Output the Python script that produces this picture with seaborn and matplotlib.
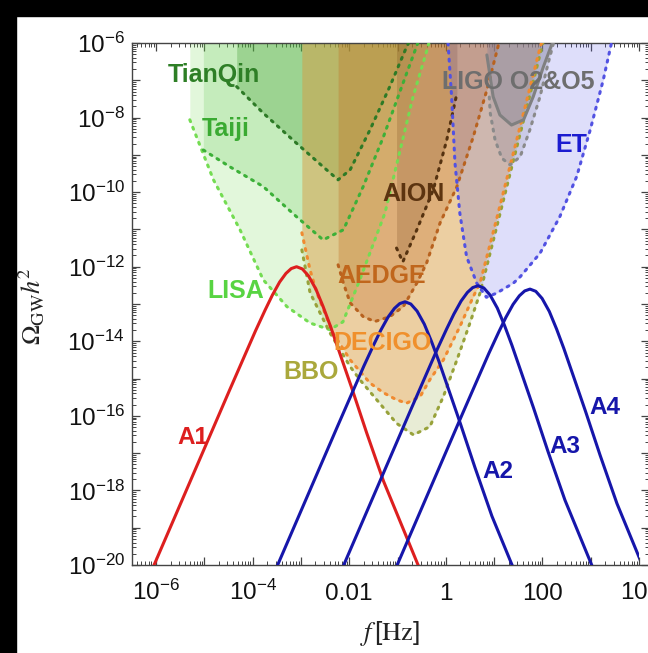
import numpy as np
import matplotlib
matplotlib.use("Agg")
import matplotlib.pyplot as plt
import seaborn as sns
from matplotlib.patches import Rectangle
from matplotlib.ticker import FixedLocator, FixedFormatter, LogLocator, NullFormatter

# ---------------- GW spectra (log10 units) ----------------
# common peaked spectral shape, offsets from the peak
shape_dlogf = [-3.3, -3.0, -2.6, -2.2, -1.8, -1.4, -1.1, -0.85, -0.65, -0.5, -0.35,
               -0.22, -0.11, 0.0, 0.12, 0.25, 0.4, 0.55, 0.7, 0.9, 1.15, 1.45, 1.8,
               2.15, 2.5, 2.85]
shape_dlogomega = [-9.05, -8.15, -6.95, -5.75, -4.55, -3.35, -2.46, -1.72, -1.16, -0.76,
                   -0.41, -0.18, -0.05, 0.0, -0.06, -0.25, -0.60, -1.07, -1.59, -2.34,
                   -3.28, -4.45, -5.75, -6.85, -7.95, -9.05]
spectrum_names = ["A1", "A2", "A3", "A4"]
peak_logf = [-3.09, -0.845, 0.667, 1.743]
peak_logomega = [-12.0, -12.94, -12.51, -12.60]
spectrum_colors = ["#dd1f1f", "#1616aa", "#1616aa", "#1616aa"]
spectrum_label_logf = [-5.24, 1.07, 2.47, 3.30]
spectrum_label_logomega = [-16.58, -17.48, -16.83, -15.77]
f_max = 1e4

# ---------------- detector sensitivity curves (log10 units) ----------------
lisa_logf = [-5.30, -4.81, -4.26, -3.78, -3.29, -2.81, -2.40, -2.13, -1.78, -1.26, -1.01, -0.68, -0.39, -0.35]
lisa_logomega = [-8.06, -9.67, -11.01, -12.35, -13.07, -13.51, -13.69, -13.48, -12.35, -10.56, -9.22, -7.45, -6.19, -6.0]

taiji_logf = [-5.02, -4.47, -3.78, -3.09, -2.54, -2.12, -1.71, -1.29, -0.81, -0.58]
taiji_logomega = [-8.87, -9.32, -9.85, -10.66, -11.28, -11.01, -9.85, -8.51, -6.81, -6.0]

tianqin_logf = [-4.33, -3.78, -3.09, -2.54, -2.23, -1.98, -1.57, -1.16, -0.81, -0.77]
tianqin_logomega = [-7.17, -7.88, -8.69, -9.32, -9.67, -9.40, -8.33, -7.17, -6.10, -6.0]

bbo_logf = [-2.98, -2.81, -2.40, -1.98, -1.78, -1.43, -1.02, -0.67, -0.33, -0.05, 0.23, 0.50, 0.71, 1.02, 1.33, 1.64, 2.01]
bbo_logomega = [-11.55, -12.70, -13.77, -14.68, -15.03, -15.57, -16.20, -16.51, -16.29, -15.48, -14.50, -13.51, -12.70, -11.11, -9.51, -7.92, -6.0]

decigo_logf = [-2.98, -2.81, -2.67, -2.34, -1.98, -1.57, -1.29, -1.02, -0.81, -0.53, -0.33, -0.05, 0.29, 0.57, 0.71, 1.02, 1.33, 1.64, 1.95, 1.98]
decigo_logomega = [-11.09, -12.09, -12.70, -13.77, -14.50, -15.12, -15.38, -15.57, -15.66, -15.48, -15.03, -14.50, -13.61, -12.80, -12.43, -10.88, -9.30, -7.72, -6.13, -6.0]

aedge_logf = [-2.23, -2.12, -1.98, -1.71, -1.47, -1.16, -0.88, -0.60, -0.40, -0.12, 0.23, 0.57, 0.85, 1.09, 1.10]
aedge_logomega = [-11.95, -12.44, -12.97, -13.34, -13.47, -13.34, -13.07, -12.44, -11.91, -10.83, -9.85, -8.51, -7.26, -6.05, -6.0]

aion_logf = [-1.02, -0.89, -0.60, -0.26, 0.02, 0.23]
aion_logomega = [-11.50, -11.87, -11.01, -9.94, -8.60, -7.35]

ligo_o2_logf = [0.85, 0.98, 1.12, 1.36, 1.61, 1.81, 2.02, 2.19, 2.21]
ligo_o2_logomega = [-6.32, -7.44, -7.93, -8.20, -8.06, -7.44, -6.64, -6.05, -6.0]

ligo_o5_logf = [0.90, 0.92, 1.02, 1.16, 1.33, 1.54, 1.74, 1.95, 2.12, 2.23]
ligo_o5_logomega = [-7.45, -7.88, -8.60, -9.09, -9.27, -9.05, -8.33, -7.44, -6.54, -6.0]

et_logf = [0.046, 0.12, 0.19, 0.29, 0.43, 0.64, 0.84, 1.05, 1.40, 1.54, 1.95, 2.36, 2.71, 2.99, 3.26, 3.43]
et_logomega = [-6.0, -7.44, -9.22, -10.56, -11.73, -12.44, -12.82, -12.71, -12.44, -12.27, -11.64, -10.66, -9.58, -8.33, -6.99, -6.0]

# name, curve, line colour, fill colour, fill alpha, line style
dotted = (0, (0.65, 2.0))
detectors = [
    ("LISA", lisa_logf, lisa_logomega, "#74dc52", "#7ddc5c", 0.22, dotted),
    ("Taiji", taiji_logf, taiji_logomega, "#3cb038", "#52c040", 0.20, dotted),
    ("TianQin", tianqin_logf, tianqin_logomega, "#2d7a26", "#3e9a30", 0.30, dotted),
    ("BBO", bbo_logf, bbo_logomega, "#98a23a", "#8ea030", 0.20, dotted),
    ("DECIGO", decigo_logf, decigo_logomega, "#f08a30", "#f59a45", 0.35, dotted),
    ("AEDGE", aedge_logf, aedge_logomega, "#b8621f", "#c0681e", 0.30, dotted),
    ("AION", aion_logf, aion_logomega, "#553210", "#6a3a12", 0.20, dotted),
    ("LIGO O2", ligo_o2_logf, ligo_o2_logomega, "#808080", "#888888", 0.30, "-"),
    ("LIGO O5", ligo_o5_logf, ligo_o5_logomega, "#8a8a8a", "#888888", 0.20, dotted),
    ("ET", et_logf, et_logomega, "#5252e2", "#5a5ae6", 0.20, dotted),
]

detector_labels = ["TianQin", "Taiji", "LISA", "BBO", "DECIGO", "AEDGE", "AION", "LIGO O2&O5", "ET"]
detector_label_logf = [-4.80, -4.55, -4.34, -2.79, -1.31, -1.32, -0.67, 1.51, 2.60]
detector_label_logomega = [-6.85, -8.30, -12.66, -14.83, -14.04, -12.24, -10.06, -7.04, -8.73]
detector_label_colors = ["#2e7f26", "#3aaa32", "#58d442", "#aaa83c", "#f0902c", "#c0661c",
                         "#5c3410", "#6e6e6e", "#1c1cd0"]

# ---------------- style ----------------
sns.set_theme(style="ticks")
plt.rcParams["font.family"] = ["Liberation Sans", "DejaVu Sans"]
plt.rcParams["mathtext.fontset"] = "custom"
plt.rcParams["mathtext.rm"] = "Liberation Sans"
plt.rcParams["mathtext.it"] = "Liberation Sans:italic"
plt.rcParams["mathtext.bf"] = "Liberation Sans:bold"
plt.rcParams["mathtext.default"] = "regular"

W, H = 648, 653
fig = plt.figure(figsize=(W / 100, H / 100), dpi=100)
fig.patch.set_facecolor("white")
ax = fig.add_axes([131.85 / W, (H - 565) / H, 517.3 / W, 522 / H])
ax.set_facecolor("white")
ax.set_xscale("log")
ax.set_yscale("log")

x_lo, x_hi = 10 ** -6.5, 10 ** 4.21
y_lo, y_hi = 1e-20, 1e-6

# shaded sensitivity regions
for name, lf, lo, lcol, fcol, alpha, ls in detectors:
    f = 10 ** np.asarray(lf)
    om = 10 ** np.asarray(lo)
    ax.fill_between(f, om, y_hi, color=fcol, alpha=alpha, lw=0, zorder=1)

# sensitivity curves
for name, lf, lo, lcol, fcol, alpha, ls in detectors:
    f = 10 ** np.asarray(lf)
    om = 10 ** np.asarray(lo)
    sns.lineplot(x=f, y=om, ax=ax, color=lcol, lw=2.2, linestyle=ls,
                 dash_capstyle="round", estimator=None, sort=False, zorder=3)

# GW spectra (frequency range ends at f_max)
for name, lf, lo, col in zip(spectrum_names, peak_logf, peak_logomega, spectrum_colors):
    f = 10 ** (lf + np.asarray(shape_dlogf))
    om = 10 ** (lo + np.asarray(shape_dlogomega))
    sns.lineplot(x=f, y=om, ax=ax, color=col, lw=2.2, estimator=None, sort=False, zorder=4)
    line = ax.lines[-1]
    clip = Rectangle((x_lo, y_lo), min(f_max, x_hi) - x_lo, y_hi - y_lo,
                     transform=ax.transData)
    line.set_clip_path(clip)

ax.set_xlim(x_lo, x_hi)
ax.set_ylim(y_lo, y_hi)

# labels
for txt, lx, ly, col in zip(detector_labels, detector_label_logf, detector_label_logomega,
                            detector_label_colors):
    ax.text(10 ** lx, 10 ** ly, txt, color=col, fontsize=18, fontweight="bold",
            ha="center", va="center", zorder=6)
for txt, lx, ly, col in zip(spectrum_names, spectrum_label_logf, spectrum_label_logomega,
                            spectrum_colors):
    ax.text(10 ** lx, 10 ** ly, txt, color=col, fontsize=17.5, fontweight="bold",
            ha="center", va="center", zorder=6)

# ticks
xdec = list(range(-7, 6))
xtick_text = {-6: r"$10^{-6}$", -4: r"$10^{-4}$", -2: "0.01", 0: "1", 2: "100", 4: r"$10^{4}$"}
ax.xaxis.set_major_locator(FixedLocator([10.0 ** k for k in xdec]))
ax.xaxis.set_major_formatter(FixedFormatter([xtick_text.get(k, "") for k in xdec]))
ax.xaxis.set_minor_locator(LogLocator(base=10, subs=np.arange(2, 10), numticks=200))
ax.xaxis.set_minor_formatter(NullFormatter())

ydec = list(range(-21, -4))
ax.yaxis.set_major_locator(FixedLocator([10.0 ** k for k in ydec]))
ax.yaxis.set_major_formatter(FixedFormatter(
    [r"$10^{%d}$" % k if k % 2 == 0 else "" for k in ydec]))
ax.yaxis.set_minor_locator(LogLocator(base=10, subs=np.arange(2, 10), numticks=200))
ax.yaxis.set_minor_formatter(NullFormatter())

ax.tick_params(which="both", direction="in", top=True, right=True, color="#444444")
ax.tick_params(which="major", length=6, width=0.9, labelsize=17.5, labelcolor="#111111")
ax.tick_params(which="minor", length=3, width=0.7)
ax.tick_params(axis="x", which="major", pad=25)
ax.tick_params(axis="y", which="major", pad=5)
for lbl in ax.get_xticklabels():
    lbl.set_verticalalignment("baseline")

for s in ax.spines.values():
    s.set_color("#444444")
    s.set_linewidth(1.0)

ax.set_xlabel(r"$\mathit{f}\,[\mathrm{Hz}]$", fontsize=19, math_fontfamily="stix",
              color="#222222")
ax.set_ylabel(r"$\mathrm{\Omega}_{\mathrm{GW}}\mathit{h}^{\mathrm{2}}$", fontsize=19,
              math_fontfamily="stix", color="#222222")
ax.xaxis.set_label_coords((390 - 131.85) / 517.3, -(634 - 565) / 522)
ax.xaxis.label.set_verticalalignment("center")
ax.yaxis.set_label_coords((33 - 131.85) / 517.3, (565 - 306) / 522)
ax.yaxis.label.set_verticalalignment("center")

# dark frame strips along the top and left edges
fig.patches.append(Rectangle((0, 1 - 16 / H), 1, 16 / H, transform=fig.transFigure,
                             color="black", zorder=10))
fig.patches.append(Rectangle((0, 0), 16 / W, 1, transform=fig.transFigure,
                             color="black", zorder=10))

fig.savefig("out.png", dpi=100, facecolor="white")
